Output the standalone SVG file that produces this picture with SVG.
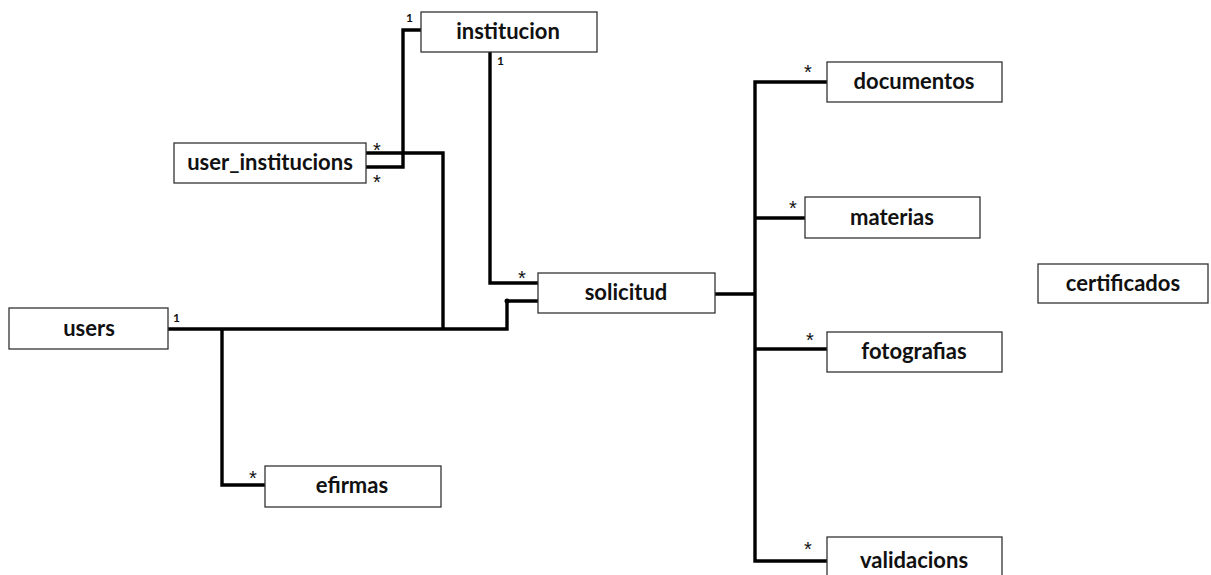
<svg xmlns="http://www.w3.org/2000/svg" width="1211" height="575" viewBox="0 0 1211 575">
<style>
.box{fill:#fff;stroke:#333;stroke-width:1.3}
.lbl{font-family:Lato,"Open Sans","Liberation Sans",sans-serif;font-weight:bold;font-size:22px;fill:#111;text-anchor:middle}
.c{fill:none;stroke:#000;stroke-width:3.4}
.m{font-family:"Liberation Sans",Arial,sans-serif;font-size:20px;fill:#111}
.one{font-family:Lato,"Liberation Sans",sans-serif;font-weight:bold;font-size:12px;fill:#111}
</style>
<rect width="1211" height="575" fill="#fff"/>
<g id="connectors">
<polyline class="c" points="421,30 403,30 403,167 366,167"/>
<polyline class="c" points="366,153 443,153 443,329"/>
<polyline class="c" points="490,52 490,283 538,283"/>
<polyline class="c" points="168,329 507,329 507,301 538,301"/>
<circle cx="507" cy="301" r="2.5" fill="#000"/>
<polyline class="c" points="222,329 222,485 265,485"/>
<polyline class="c" points="715,294 755,294"/>
<polyline class="c" points="827,82 755,82 755,561 827,561"/>
<line class="c" x1="755" y1="218" x2="805" y2="218"/>
<line class="c" x1="755" y1="349" x2="827" y2="349"/>
</g>
<g id="multiplicities">
<text class="one" x="406" y="22">1</text>
<text class="one" x="497" y="65">1</text>
<text class="one" x="173" y="322">1</text>
<text class="m" x="373" y="157">*</text>
<text class="m" x="373" y="189">*</text>
<text class="m" x="518" y="285">*</text>
<text class="m" x="249" y="485">*</text>
<text class="m" x="804" y="79">*</text>
<text class="m" x="789" y="215">*</text>
<text class="m" x="806" y="347">*</text>
<text class="m" x="804" y="556">*</text>
</g>
<g id="institucion"><rect class="box" x="421" y="12" width="176" height="40"/><text class="lbl" x="508" y="39">institucion</text></g>
<g id="user_institucions"><rect class="box" x="174" y="143" width="192" height="40"/><text class="lbl" x="270" y="170">user_institucions</text></g>
<g id="solicitud"><rect class="box" x="538" y="273" width="177" height="40"/><text class="lbl" x="626" y="300">solicitud</text></g>
<g id="users"><rect class="box" x="9" y="308" width="159" height="41"/><text class="lbl" x="89" y="336">users</text></g>
<g id="efirmas"><rect class="box" x="265" y="466" width="176" height="41"/><text class="lbl" x="352" y="493">efirmas</text></g>
<g id="documentos"><rect class="box" x="827" y="62" width="175" height="40"/><text class="lbl" x="914" y="89">documentos</text></g>
<g id="materias"><rect class="box" x="805" y="197" width="175" height="41"/><text class="lbl" x="892" y="225">materias</text></g>
<g id="fotografias"><rect class="box" x="827" y="332" width="175" height="40"/><text class="lbl" x="914" y="359">fotografias</text></g>
<g id="validacions"><rect class="box" x="827" y="537" width="175" height="50"/><text class="lbl" x="914" y="568">validacions</text></g>
<g id="certificados"><rect class="box" x="1038" y="264" width="170" height="39"/><text class="lbl" x="1123" y="291">certificados</text></g>
</svg>
